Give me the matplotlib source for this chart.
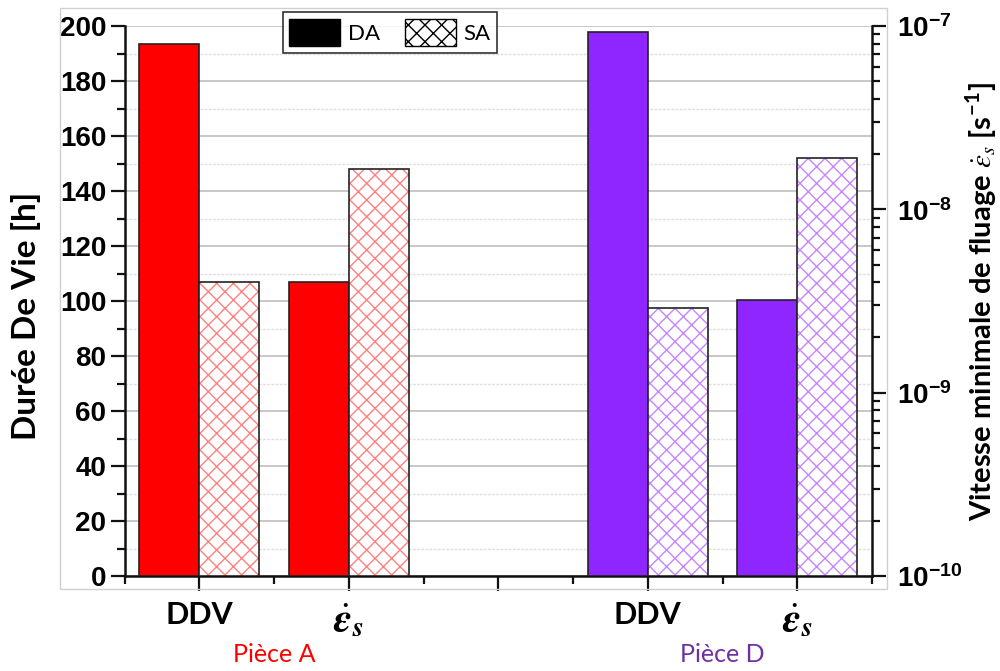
import matplotlib
matplotlib.use("Agg")
import matplotlib.pyplot as plt
from matplotlib.patches import Patch, Rectangle
from matplotlib.ticker import FixedLocator, NullFormatter
import numpy as np

# ---------------- data ----------------
pieces = ["Pièce A", "Pièce D"]
categories = ["DDV", r"$\dot{\mathbfit{\varepsilon}}_{\mathbfit{s}}$"]
ddv_DA = [193.5, 197.8]          # Durée de vie [h], DA
ddv_SA = [106.8, 97.6]           # Durée de vie [h], SA
eps_DA = [4.0e-9, 3.2e-9]        # vitesse minimale de fluage [1/s], DA
eps_SA = [1.66e-8, 1.9e-8]       # vitesse minimale de fluage [1/s], SA
series_labels = ["DA", "SA"]
left_ticks = [0, 20, 40, 60, 80, 100, 120, 140, 160, 180, 200]
right_ticks = [1e-10, 1e-9, 1e-8, 1e-7]
right_ticklabels = [r"$\mathbf{10^{-10}}$", r"$\mathbf{10^{-9}}$",
                    r"$\mathbf{10^{-8}}$", r"$\mathbf{10^{-7}}$"]

# ---------------- styles ----------------
fill_colors = ["#FF0000", "#8F26FF"]
hatch_colors = ["#FF8080", "#C585FF"]
piece_text_colors = ["#FF0000", "#7030A0"]

plt.rcParams["mathtext.fontset"] = "custom"
plt.rcParams["mathtext.bf"] = "Liberation Sans:bold"
plt.rcParams["mathtext.rm"] = "Liberation Sans"
plt.rcParams["mathtext.it"] = "Liberation Sans:italic"
plt.rcParams["hatch.linewidth"] = 1.0
plt.rcParams["font.family"] = ["Lato", "DejaVu Sans"]

fig = plt.figure(figsize=(10, 6.71), dpi=100)
L, R = 124.5 / 1000, 872 / 1000
B, T = 1 - 576 / 671, 1 - 26 / 671
ax = fig.add_axes([L, B, R - L, T - B])
ax2 = ax.twinx()

# group positions: DDV at 1 and 4, eps at 2 and 5
ddv_pos = [1, 4]
eps_pos = [2, 5]
w = 0.4

for i in range(2):
    # DDV bars on left axis
    ax.bar(ddv_pos[i] - w / 2, ddv_DA[i], width=w, color=fill_colors[i],
           edgecolor="#222222", linewidth=1.2, zorder=3)
    ax.bar(ddv_pos[i] + w / 2, ddv_SA[i], width=w, color="white",
           edgecolor=hatch_colors[i], linewidth=0, hatch="xx", zorder=3)
    ax.bar(ddv_pos[i] + w / 2, ddv_SA[i], width=w, fill=False,
           edgecolor="#222222", linewidth=1.2, zorder=4)
    # eps bars on right log axis
    base = right_ticks[0]
    ax2.bar(eps_pos[i] - w / 2, eps_DA[i] - base, bottom=base, width=w,
            color=fill_colors[i], edgecolor="#222222", linewidth=1.2, zorder=3)
    ax2.bar(eps_pos[i] + w / 2, eps_SA[i] - base, bottom=base, width=w,
            color="white", edgecolor=hatch_colors[i], linewidth=0, hatch="xx",
            zorder=3)
    ax2.bar(eps_pos[i] + w / 2, eps_SA[i] - base, bottom=base, width=w,
            fill=False, edgecolor="#222222", linewidth=1.2, zorder=4)

# ---------------- axes ----------------
ax.set_xlim(0.5, 5.5)
ax.set_ylim(0, 200)
ax2.set_yscale("log")
ax2.set_ylim(1e-10, 1e-7)

for s in ["top", "right"]:
    ax.spines[s].set_visible(False)
for s in ["top", "left", "bottom"]:
    ax2.spines[s].set_visible(False)
for sp in [ax.spines["left"], ax.spines["bottom"], ax2.spines["right"]]:
    sp.set_linewidth(1.8)
    sp.set_color("#111111")

ax.set_yticks(left_ticks)
ax.set_yticklabels([str(t) for t in left_ticks],
                   fontfamily="Liberation Sans", fontweight="bold", fontsize=20)
ax.yaxis.set_minor_locator(FixedLocator(np.arange(10, 200, 20)))
ax.tick_params(axis="y", which="major", direction="out", length=10, width=1.6,
               pad=3, color="#111111")
ax.tick_params(axis="y", which="minor", direction="out", length=6, width=1.6,
               color="#111111")

xt_labels = [categories[0], categories[1], "", categories[0], categories[1]]
ax.set_xticks([1, 2, 3, 4, 5])
ax.set_xticklabels(xt_labels, fontsize=22, fontweight="bold")
for lbl in ax.get_xticklabels():
    lbl.set_math_fontfamily("stix")
    if "$" in lbl.get_text():
        lbl.set_fontsize(29)
ax.xaxis.set_minor_locator(FixedLocator([0.5, 1.5, 2.5, 3.5, 4.5, 5.5]))
ax.tick_params(axis="x", which="major", direction="out", length=11, width=1.6,
               pad=7, color="#111111")
ax.tick_params(axis="x", which="minor", direction="out", length=6, width=1.6,
               color="#111111")

ax2.set_yticks(right_ticks)
ax2.set_yticklabels(right_ticklabels, fontsize=20)
ax2.yaxis.set_minor_locator(
    FixedLocator([m * 10.0 ** e for e in (-10, -9, -8) for m in range(2, 10)]))
ax2.yaxis.set_minor_formatter(NullFormatter())
ax2.tick_params(axis="y", which="major", direction="out", length=10, width=1.6,
                pad=8, color="#111111")
ax2.tick_params(axis="y", which="minor", direction="out", length=6, width=1.6,
                color="#111111")

# grid
ax.set_axisbelow(True)
ax.yaxis.grid(True, which="major", color="#c8c8c8", linewidth=1.4, zorder=0)
ax.yaxis.grid(True, which="minor", color="#e0e0e0", linewidth=1.0,
              linestyle=(0, (2, 1)), zorder=0)

# axis labels
fig.text(0.026, 1 - 316 / 671, "Durée De Vie [h]", fontsize=24,
         fontweight="bold", rotation=90, ha="center", va="center")
fig.text(0.982, 1 - 302 / 671,
         r"Vitesse minimale de fluage $\dot{\varepsilon}_s$ [s$^{\mathregular{-1}}$]",
         fontsize=21, fontweight="bold", rotation=90, ha="center", va="center",
         math_fontfamily="stix")

# piece labels
for i in range(2):
    x_fig = L + (ddv_pos[i] + 0.5 - 0.5) / 5.0 * (R - L)
    fig.text(x_fig, 1 - 655 / 671, pieces[i], color=piece_text_colors[i],
             fontsize=18, ha="center", va="center")

# legend
handles = [Patch(facecolor="black", edgecolor="black", linewidth=1.0),
           Patch(facecolor="white", edgecolor="black", hatch="xx", linewidth=1.0)]
leg = ax2.legend(handles, series_labels, loc="upper center",
                 bbox_to_anchor=((390 / 1000 - L) / (R - L), 1.025),
                 ncol=2, fontsize=16, frameon=True, fancybox=False,
                 edgecolor="black", handlelength=2.3, handleheight=1.5,
                 columnspacing=1.1, handletextpad=0.35, borderpad=0.3,
                 borderaxespad=0.0)
leg.get_frame().set_linewidth(1.2)
leg.set_zorder(10)

# light outer frame
fig.add_artist(Rectangle((60 / 1000, 1 - 589 / 671), (887 - 60) / 1000,
                         (589 - 8) / 671, transform=fig.transFigure,
                         fill=False, edgecolor="#d0d0d0", linewidth=1.0))

fig.savefig("out.png", dpi=100)
